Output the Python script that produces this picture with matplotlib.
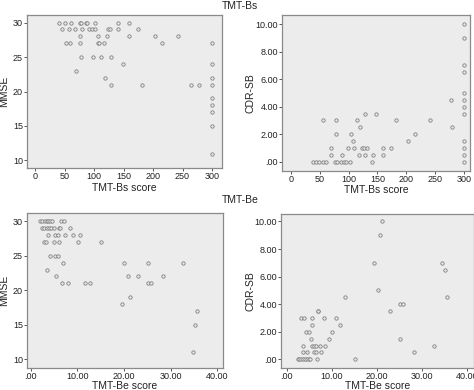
import matplotlib
matplotlib.use("Agg")
import matplotlib.pyplot as plt
from matplotlib.ticker import FuncFormatter

plt.rcParams['font.family'] = ['Liberation Sans', 'DejaVu Sans']

# ---- TMT-Bs score vs MMSE ----
bs_mmse_x = [39.5, 51, 61, 76, 78, 86, 88, 102, 140, 159,
             45, 58, 68, 79, 92, 96, 102, 124, 127, 141, 174,
             76, 107, 122, 159, 203, 243,
             52, 59, 76, 106, 108, 117, 216, 300,
             77, 98, 111, 129,
             149, 300,
             69,
             119, 300,
             128, 182, 264, 278, 300,
             300, 300, 300, 300, 300]
bs_mmse_y = [30, 30, 30, 30, 30, 30, 30, 30, 30, 30,
             29, 29, 29, 29, 29, 29, 29, 29, 29, 29, 29,
             28, 28, 28, 28, 28, 28,
             27, 27, 27, 27, 27, 27, 27, 27,
             25, 25, 25, 25,
             24, 24,
             23,
             22, 22,
             21, 21, 21, 21, 21,
             19, 18, 17, 15, 11]

# ---- TMT-Bs score vs CDR-SB ----
bs_cdr_x = [300, 300, 300, 300, 300,
            278, 300, 300,
            128, 148, 300,
            55, 78, 114, 183, 242,
            120, 280,
            78, 104, 216,
            107, 204, 300,
            69, 98, 109, 123, 127, 131, 159, 174, 300,
            69, 88, 118, 128, 142, 159, 300,
            38, 44, 49, 56, 60, 76, 79, 86, 92, 96, 102, 140, 300]
bs_cdr_y = [10, 9, 7, 6.5, 5,
            4.5, 4.5, 4,
            3.5, 3.5, 3.5,
            3, 3, 3, 3, 3,
            2.5, 2.5,
            2, 2, 2,
            1.5, 1.5, 1.5,
            1, 1, 1, 1, 1, 1, 1, 1, 1,
            0.5, 0.5, 0.5, 0.5, 0.5, 0.5, 0.5,
            0, 0, 0, 0, 0, 0, 0, 0, 0, 0, 0, 0, 0]

# ---- TMT-Be score vs MMSE ----
be_mmse_x = [2.0, 2.5, 3.0, 3.4, 3.8, 4.2, 4.6, 6.4, 7.2,
             2.4, 2.9, 3.4, 3.9, 4.4, 4.9, 6.0, 6.2, 8.5,
             3.7, 5.3, 5.8, 7.3, 9.1, 10.5,
             2.8, 3.3, 4.9, 6.0, 10.1, 15.0,
             4.1, 5.3, 5.8,
             6.9, 20.0, 25.2, 32.7,
             3.5,
             5.5, 20.8, 22.9, 28.4,
             6.6, 8.0, 11.6, 12.6, 25.2, 25.8,
             21.3, 19.5, 35.7, 35.1, 34.7]
be_mmse_y = [30, 30, 30, 30, 30, 30, 30, 30, 30,
             29, 29, 29, 29, 29, 29, 29, 29, 29,
             28, 28, 28, 28, 28, 28,
             27, 27, 27, 27, 27, 27,
             25, 25, 25,
             24, 24, 24, 24,
             23,
             22, 22, 22, 22,
             21, 21, 21, 21, 21, 21,
             19, 18, 17, 15, 11]

# ---- TMT-Be score vs CDR-SB ----
be_cdr_x = [21.2, 20.7, 19.4, 34.5, 35.0, 20.1,
            12.8, 35.5, 25.2, 25.7,
            6.9, 7.0, 22.8,
            3.1, 3.9, 5.5, 8.2, 10.9,
            5.6, 11.7,
            4.3, 5.0, 10.1,
            5.3, 9.3, 25.1,
            3.6, 5.5, 6.1, 6.5, 7.4, 8.5, 32.6,
            3.6, 4.4, 6.1, 6.5, 7.6, 28.3,
            2.4, 2.8, 3.2, 3.6, 4.0, 4.4, 4.8, 5.2, 6.7, 15.1]
be_cdr_y = [10, 9, 7, 7, 6.5, 5,
            4.5, 4.5, 4, 4,
            3.5, 3.5, 3.5,
            3, 3, 3, 3, 3,
            2.5, 2.5,
            2, 2, 2,
            1.5, 1.5, 1.5,
            1, 1, 1, 1, 1, 1, 1,
            0.5, 0.5, 0.5, 0.5, 0.5, 0.5,
            0, 0, 0, 0, 0, 0, 0, 0, 0, 0]

mmse_ticks = [10, 15, 20, 25, 30]
cdr_ticks = [0, 2, 4, 6, 8, 10]
bs_ticks = [0, 50, 100, 150, 200, 250, 300]
be_ticks = [0, 10, 20, 30, 40]

W, H = 474, 390
fig = plt.figure(figsize=(W / 100, H / 100), dpi=100)
fig.patch.set_facecolor('white')


def dec_fmt(v, pos):
    s = f"{v:.2f}"
    if s.startswith("0"):
        s = s[1:]
    return s


def make_ax(px_left, px_top, px_right, px_bottom):
    return fig.add_axes([px_left / W, 1 - px_bottom / H,
                         (px_right - px_left) / W, (px_bottom - px_top) / H])


def style(ax, x, y, xlim, ylim, xticks, yticks, xlabel, ylabel, xdec, ydec,
          px_w, px_h, xlab_gap, ylab_gap):
    ax.set_facecolor('#ececec')
    ax.scatter(x, y, s=6, facecolors='#e6e6e6', edgecolors='#7a7a7a',
               linewidths=0.55, zorder=3)
    ax.set_xlim(*xlim)
    ax.set_ylim(*ylim)
    ax.set_xticks(xticks)
    ax.set_yticks(yticks)
    if xdec:
        ax.xaxis.set_major_formatter(FuncFormatter(dec_fmt))
    if ydec:
        ax.yaxis.set_major_formatter(FuncFormatter(dec_fmt))
    for sp in ax.spines.values():
        sp.set_color('#8a8a8a')
        sp.set_linewidth(0.9)
    ax.tick_params(direction='out', length=2, width=0.7, color='#555555',
                   labelsize=6.5, labelcolor='#222222', pad=1)
    ax.set_xlabel(xlabel, fontsize=7.5, color='#222222', va='top')
    ax.xaxis.set_label_coords(0.5, -xlab_gap / px_h)
    ax.set_ylabel(ylabel, fontsize=7.5, color='#222222')
    ax.yaxis.set_label_coords(-ylab_gap / px_w, 0.5)


ax1 = make_ax(27, 15, 222, 168)
style(ax1, bs_mmse_x, bs_mmse_y, (-14, 317), (8.9, 31.1), bs_ticks, mmse_ticks,
      'TMT-Bs score', 'MMSE', False, False, 195, 153, 15, 18)

ax2 = make_ax(282, 15, 470, 171)
style(ax2, bs_cdr_x, bs_cdr_y, (-16, 311), (-0.69, 10.68), bs_ticks, cdr_ticks,
      'TMT-Bs score', 'CDR-SB', False, True, 188, 156, 14, 27)

ax3 = make_ax(27, 213, 223, 368)
style(ax3, be_mmse_x, be_mmse_y, (-0.8, 41.2), (8.73, 31.2), be_ticks, mmse_ticks,
      'TMT-Be score', 'MMSE', True, False, 196, 155, 13, 18)

ax4 = make_ax(281, 214, 474, 368)
style(ax4, be_cdr_x, be_cdr_y, (-1.3, 41.5), (-0.63, 10.54), be_ticks, cdr_ticks,
      'TMT-Be score', 'CDR-SB', True, True, 193, 154, 13, 25)

fig.text(240 / W, 1 - 6 / H, 'TMT-Bs', ha='center', va='center', fontsize=7.5, color='#222222')
fig.text(240 / W, 1 - 200 / H, 'TMT-Be', ha='center', va='center', fontsize=7.5, color='#222222')

fig.savefig('out.png', dpi=100)
